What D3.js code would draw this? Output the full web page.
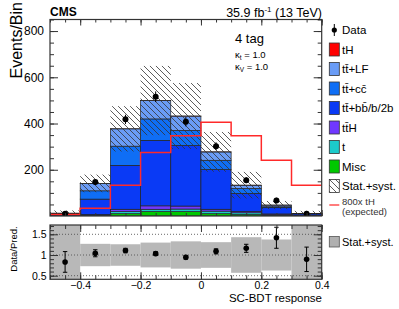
<!DOCTYPE html>
<html>
<head>
<meta charset="utf-8">
<script src="https://cdn.jsdelivr.net/npm/d3@7"></script>
<style>
  body { margin: 0; background: #fff; }
  text { font-family: "Liberation Sans", Arial, Helvetica, sans-serif; fill: #000; }
</style>
</head>
<body>
<svg id="chart" width="399" height="309"></svg>
<script>
// bin edges of the SC-BDT response
const binEdges = [-0.5, -0.4, -0.3, -0.2, -0.1, 0, 0.1, 0.2, 0.3, 0.4];

// stacked backgrounds, bottom to top (events per bin)
const misc  = [0.5, 2, 10, 19, 19, 10, 6, 2, 0.5];
const singleT = [0.5, 2, 9, 10, 11, 11, 8, 3, 0.5];
const ttH   = [0.5, 2, 10, 15, 13, 8, 6, 4, 1];
const ttbb  = [6, 67, 190, 283, 262, 172, 78, 27, 7];
const ttcc  = [2.5, 36, 83, 93, 65, 40, 21, 4, 1];
const ttLF  = [2, 32, 75, 79, 62, 36, 14, 7, 1];
// 800 x tH expected signal
const tH800 = [7, 34, 133, 275, 347, 405, 347, 241, 133];
const tH = tH800.map(v => v / 800);

// observed data and its errors
const dataObs = [10, 147, 418, 516, 408, 302, 155, 67, 10];
const dataErr = [3, 12, 20, 23, 20, 17, 13, 12, 3.3];

// relative stat.+syst. uncertainty of the prediction
const uncFrac = [1.0, 0.27, 0.26, 0.30, 0.33, 0.31, 0.43, 0.375, 1.0];

const yTicksMain = [200, 400, 600, 800];
const xTicks = [-0.4, -0.2, 0, 0.2, 0.4];
const ratioTicks = [0.5, 1, 1.5];

const svg = d3.select("#chart");
const L = 50, R = 321.7;
const mainTop = 19.5, mainBot = 216;
const ratTop = 225, ratBot = 279.3;
const frameCol = "#333";

const x = d3.scaleLinear().domain([-0.5, 0.4]).range([L, R]);
const y = d3.scaleLinear().domain([0, 850]).range([mainBot, mainTop]);
const yr = d3.scaleLinear().domain([0.413, 1.725]).range([ratBot, ratTop]);

const defs = svg.append("defs");
defs.append("pattern")
    .attr("id", "hatch")
    .attr("patternUnits", "userSpaceOnUse")
    .attr("width", 6).attr("height", 6)
  .append("path")
    .attr("d", "M0,0L6,6M-1,5L1,7M5,-1L7,1")
    .attr("stroke", "#333").attr("stroke-width", 0.8);
defs.append("clipPath").attr("id", "clipMain")
  .append("rect").attr("x", L).attr("y", mainTop).attr("width", R - L).attr("height", mainBot - mainTop);
defs.append("clipPath").attr("id", "clipRat")
  .append("rect").attr("x", L).attr("y", ratTop).attr("width", R - L).attr("height", ratBot - ratTop);

const series = [
  { key: "misc", label: "Misc", color: "#00c800", vals: misc },
  { key: "t", label: "t", color: "#1ccbcb", vals: singleT },
  { key: "ttH", label: "tt\u0304H", color: "#7038ff", vals: ttH },
  { key: "ttbb", label: "tt\u0304+bb\u0304/b/2b", color: "#0a3af5", vals: ttbb },
  { key: "ttcc", label: "tt\u0304+cc\u0304", color: "#0f6ef5", vals: ttcc },
  { key: "ttLF", label: "tt\u0304+LF", color: "#6a9cf6", vals: ttLF },
  { key: "tH", label: "tH", color: "#ff0000", vals: tH }
];

const bins = d3.range(binEdges.length - 1);
const table = bins.map(i => {
  const row = { i };
  series.forEach(s => row[s.key] = s.vals[i]);
  return row;
});
const stacked = d3.stack().keys(series.map(s => s.key))(table);
const total = bins.map(i => d3.sum(series, s => s.vals[i]));

// ---- main panel ----
const gMain = svg.append("g").attr("clip-path", "url(#clipMain)");

stacked.forEach((layer, k) => {
  gMain.selectAll(null)
    .data(layer)
    .enter()
    .append("rect")
    .attr("x", d => x(binEdges[d.data.i]))
    .attr("width", d => x(binEdges[d.data.i + 1]) - x(binEdges[d.data.i]))
    .attr("y", d => y(d[1]))
    .attr("height", d => y(d[0]) - y(d[1]))
    .attr("fill", series[k].color)
    .attr("stroke", "#222")
    .attr("stroke-width", 0.7);
});

// uncertainty hatch
gMain.selectAll(".unc")
  .data(bins)
  .enter()
  .append("rect")
  .attr("x", i => x(binEdges[i]))
  .attr("width", i => x(binEdges[i + 1]) - x(binEdges[i]))
  .attr("y", i => y(total[i] * (1 + uncFrac[i])))
  .attr("height", i => y(Math.max(0, total[i] * (1 - uncFrac[i]))) - y(total[i] * (1 + uncFrac[i])))
  .attr("fill", "url(#hatch)");

// 800x tH line
const stepPts = bins.map(i => [binEdges[i], tH800[i]]);
stepPts.push([binEdges[binEdges.length - 1], tH800[tH800.length - 1]]);
gMain.append("path")
  .attr("d", d3.line().x(d => x(d[0])).y(d => y(d[1])).curve(d3.curveStepAfter)(stepPts))
  .attr("fill", "none")
  .attr("stroke", "#ff2a2a")
  .attr("stroke-width", 1.5);

// data points
const cx = i => x((binEdges[i] + binEdges[i + 1]) / 2);
gMain.selectAll(".derr")
  .data(bins).enter().append("line")
  .attr("x1", cx).attr("x2", cx)
  .attr("y1", i => y(dataObs[i] - dataErr[i]))
  .attr("y2", i => y(dataObs[i] + dataErr[i]))
  .attr("stroke", "#000").attr("stroke-width", 1);
gMain.selectAll(".dpt")
  .data(bins).enter().append("circle")
  .attr("cx", cx).attr("cy", i => y(dataObs[i]))
  .attr("r", 3).attr("fill", "#000");

// ---- ratio panel ----
const gRat = svg.append("g").attr("clip-path", "url(#clipRat)");
gRat.selectAll(".band")
  .data(bins).enter().append("rect")
  .attr("x", i => x(binEdges[i]))
  .attr("width", i => x(binEdges[i + 1]) - x(binEdges[i]))
  .attr("y", i => yr(Math.min(1.725, 1 + uncFrac[i])))
  .attr("height", i => yr(Math.max(0.413, 1 - uncFrac[i])) - yr(Math.min(1.725, 1 + uncFrac[i])))
  .attr("fill", "#b8b8b8");

gRat.selectAll(".grid")
  .data(ratioTicks).enter().append("line")
  .attr("x1", L).attr("x2", R)
  .attr("y1", d => yr(d)).attr("y2", d => yr(d))
  .attr("stroke", "#444").attr("stroke-width", 0.8)
  .attr("stroke-dasharray", "1,2");

const ratio = bins.map(i => dataObs[i] / total[i]);
const ratioErr = bins.map(i => dataErr[i] / total[i]);
const capW = 2.2;
bins.forEach(i => {
  const px = cx(i);
  const lo = yr(ratio[i] - ratioErr[i]), hi = yr(ratio[i] + ratioErr[i]);
  gRat.append("line").attr("x1", px).attr("x2", px).attr("y1", lo).attr("y2", hi)
    .attr("stroke", "#000").attr("stroke-width", 1);
  [lo, hi].forEach(yy => gRat.append("line")
    .attr("x1", px - capW).attr("x2", px + capW).attr("y1", yy).attr("y2", yy)
    .attr("stroke", "#000").attr("stroke-width", 1));
  gRat.append("circle").attr("cx", px).attr("cy", yr(ratio[i])).attr("r", 2.8).attr("fill", "#000");
});

// ---- frames and axes ----
function styleAxis(g) {
  g.select(".domain").remove();
  g.selectAll(".tick line").attr("stroke", frameCol);
  g.selectAll("text").style("font-family", "Liberation Sans, Arial, sans-serif").attr("fill", "#000");
}
const minorX = d3.range(-0.5, 0.4001, 0.05).map(v => +v.toFixed(2));

// main y
svg.append("g").attr("transform", `translate(${L},0)`)
  .call(d3.axisLeft(y).tickValues(d3.range(50, 851, 50)).tickSize(-4).tickFormat(""))
  .call(styleAxis);
svg.append("g").attr("transform", `translate(${L},0)`)
  .call(d3.axisLeft(y).tickValues(yTicksMain).tickSize(-8).tickPadding(6))
  .call(styleAxis)
  .selectAll("text").style("font-size", "12px");
svg.append("g").attr("transform", `translate(${R},0)`)
  .call(d3.axisRight(y).tickValues(d3.range(50, 851, 50)).tickSize(-4).tickFormat(""))
  .call(styleAxis);
svg.append("g").attr("transform", `translate(${R},0)`)
  .call(d3.axisRight(y).tickValues(yTicksMain).tickSize(-8).tickFormat(""))
  .call(styleAxis);
// main x
[[mainBot, d3.axisBottom], [mainTop, d3.axisTop]].forEach(([yy, ax]) => {
  svg.append("g").attr("transform", `translate(0,${yy})`)
    .call(ax(x).tickValues(minorX).tickSize(-3).tickFormat("")).call(styleAxis);
  svg.append("g").attr("transform", `translate(0,${yy})`)
    .call(ax(x).tickValues(xTicks).tickSize(-6).tickFormat("")).call(styleAxis);
});
svg.append("rect").attr("x", L).attr("y", mainTop).attr("width", R - L).attr("height", mainBot - mainTop)
  .attr("fill", "none").attr("stroke", frameCol).attr("stroke-width", 1.2);

// ratio y
const minorR = d3.range(0.5, 1.71, 0.1).map(v => +v.toFixed(1));
svg.append("g").attr("transform", `translate(${L},0)`)
  .call(d3.axisLeft(yr).tickValues(minorR).tickSize(-4).tickFormat("")).call(styleAxis);
svg.append("g").attr("transform", `translate(${L},0)`)
  .call(d3.axisLeft(yr).tickValues(ratioTicks).tickSize(-8).tickPadding(3.5).tickFormat(d => String(d)))
  .call(styleAxis)
  .selectAll("text").style("font-size", "10.5px");
svg.append("g").attr("transform", `translate(${R},0)`)
  .call(d3.axisRight(yr).tickValues(minorR).tickSize(-4).tickFormat("")).call(styleAxis);
svg.append("g").attr("transform", `translate(${R},0)`)
  .call(d3.axisRight(yr).tickValues(ratioTicks).tickSize(-8).tickFormat("")).call(styleAxis);
// ratio x
svg.append("g").attr("transform", `translate(0,${ratTop})`)
  .call(d3.axisTop(x).tickValues(minorX).tickSize(-4).tickFormat("")).call(styleAxis);
svg.append("g").attr("transform", `translate(0,${ratTop})`)
  .call(d3.axisTop(x).tickValues(xTicks).tickSize(-7).tickFormat("")).call(styleAxis);
svg.append("g").attr("transform", `translate(0,${ratBot})`)
  .call(d3.axisBottom(x).tickValues(minorX).tickSize(-4).tickFormat("")).call(styleAxis);
svg.append("g").attr("transform", `translate(0,${ratBot})`)
  .call(d3.axisBottom(x).tickValues(xTicks).tickSize(-7).tickPadding(2)
    .tickFormat(d => d === 0 ? "0" : d3.format(".1f")(d)))
  .call(styleAxis)
  .selectAll("text").style("font-size", "10.5px");
svg.append("rect").attr("x", L).attr("y", ratTop).attr("width", R - L).attr("height", ratBot - ratTop)
  .attr("fill", "none").attr("stroke", frameCol).attr("stroke-width", 1.2);

// ---- labels ----
svg.append("text").attr("x", 50).attr("y", 15.5).style("font-weight", "bold").style("font-size", "12px").text("CMS");
const lumi = svg.append("text").attr("x", 322).attr("y", 16.5).attr("text-anchor", "end").style("font-size", "12.5px");
lumi.append("tspan").text("35.9 fb");
lumi.append("tspan").attr("dy", -5).style("font-size", "8px").text("-1");
lumi.append("tspan").attr("dy", 5).text(" (13 TeV)");

svg.append("text").attr("x", 235).attr("y", 43).style("font-size", "13px").text("4 tag");
[["t", 57.5], ["V", 69.5]].forEach(([sub, yy]) => {
  const t = svg.append("text").attr("x", 235).attr("y", yy).style("font-size", "9.5px");
  t.append("tspan").text("\u03ba");
  t.append("tspan").attr("dy", 2).style("font-size", "6.5px").text(sub);
  t.append("tspan").attr("dy", -2).text(" = 1.0");
});

svg.append("text").attr("transform", "translate(21.5,2) rotate(-90)")
  .attr("text-anchor", "end").style("font-size", "16px").text("Events/Bin");
svg.append("text").attr("transform", "translate(17,249) rotate(-90)")
  .attr("text-anchor", "middle").style("font-size", "9.5px").text("Data/Pred.");
svg.append("text").attr("x", 322).attr("y", 302).attr("text-anchor", "end")
  .style("font-size", "11.5px").text("SC-BDT response");

// ---- legend ----
const lx = 329.3, tx = 342, fs = "11.5px";
const rowY = i => 30 + i * 19.5;
svg.append("line").attr("x1", lx + 5).attr("x2", lx + 5).attr("y1", rowY(0) - 6).attr("y2", rowY(0) + 6)
  .attr("stroke", "#000").attr("stroke-width", 1);
svg.append("circle").attr("cx", lx + 5).attr("cy", rowY(0)).attr("r", 2.6).attr("fill", "#000");
svg.append("text").attr("x", tx).attr("y", rowY(0) + 4).style("font-size", fs).text("Data");

const legOrder = series.slice().reverse();
legOrder.forEach((s, k) => {
  const yy = rowY(k + 1);
  svg.append("rect").attr("x", lx).attr("y", yy - 6.5).attr("width", 10).attr("height", 13)
    .attr("fill", s.color).attr("stroke", "#333").attr("stroke-width", 0.8);
  svg.append("text").attr("x", tx).attr("y", yy + 4).style("font-size", fs).text(s.label);
});
const ys = rowY(8);
svg.append("rect").attr("x", lx).attr("y", ys - 6.5).attr("width", 10).attr("height", 13)
  .attr("fill", "url(#hatch)").attr("stroke", "#333").attr("stroke-width", 0.8);
svg.append("text").attr("x", tx).attr("y", ys + 4).style("font-size", fs).text("Stat.+syst.");
svg.append("line").attr("x1", lx).attr("x2", lx + 10).attr("y1", 205).attr("y2", 205)
  .attr("stroke", "#ff5050").attr("stroke-width", 1.5);
svg.append("text").attr("x", tx).attr("y", 205).style("font-size", "9.5px").style("fill", "#333").text("800x tH");
svg.append("text").attr("x", tx).attr("y", 215).style("font-size", "9.5px").style("fill", "#333").text("(expected)");

svg.append("rect").attr("x", lx).attr("y", 236.5).attr("width", 10).attr("height", 10.5)
  .attr("fill", "#b0b0b0").attr("stroke", "#555").attr("stroke-width", 0.8);
svg.append("text").attr("x", tx).attr("y", 245.5).style("font-size", "11px").text("Stat.+syst.");
</script>
</body>
</html>
